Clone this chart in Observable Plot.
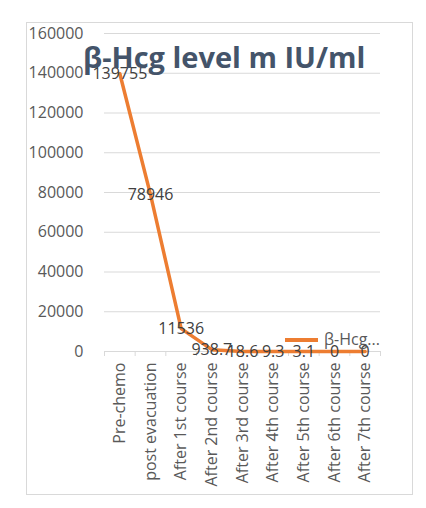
<!DOCTYPE html>
<html>
<head>
<meta charset="utf-8">
<script src="https://cdn.jsdelivr.net/npm/d3@7"></script>
<script src="https://cdn.jsdelivr.net/npm/@observablehq/plot@0.6"></script>
<style>
  html, body { margin: 0; padding: 0; background: #fff; }
  #wrap { position: relative; width: 426px; height: 508px; font-family: "Open Sans", sans-serif; }
  #frame { position: absolute; left: 26px; top: 22px; width: 387px; height: 473px; border: 1px solid #d9d9d9; box-sizing: border-box; }
  #title { position: absolute; left: 83px; top: 42px; font-size: 29px; line-height: 1; font-weight: 700; color: #44546A; white-space: nowrap; }
  #legend { position: absolute; left: 285px; top: 329px; font-size: 16px; line-height: 20px; color: #595959; white-space: nowrap; }
  #legend .sw { display: inline-block; width: 33px; height: 4px; background: #ED7D31; vertical-align: middle; margin-right: 6px; position: relative; top: -1px; }
  #chart { position: absolute; left: 0; top: 0; }
</style>
</head>
<body>
<div id="wrap">
  <div id="frame"></div>
  <div id="chart"></div>
  <div id="title">β-Hcg level m IU/ml</div>
  <div id="legend"><span class="sw"></span>β-Hcg...</div>
</div>
<script>
const categories = ["Pre-chemo", "post evacuation", "After 1st course", "After 2nd course", "After 3rd course", "After 4th course", "After 5th course", "After 6th course", "After 7th course"];
const values = [139755, 78946, 11536, 938.7, 18.6, 9.3, 3.1, 0, 0];
const yTicks = [0, 20000, 40000, 60000, 80000, 100000, 120000, 140000, 160000];

const data = categories.map((c, i) => ({i, c, v: values[i]}));
const idx = categories.map((c, i) => i);
const bounds = [...idx.map(i => i - 0.5), categories.length - 0.5];

const chart = Plot.plot({
  width: 426,
  height: 508,
  marginLeft: 104,
  marginRight: 46,
  marginTop: 33,
  marginBottom: 157,
  style: {fontFamily: "Open Sans, sans-serif", fontSize: "16px", color: "#595959", background: "transparent"},
  x: {type: "linear", domain: [-0.5, categories.length - 0.5]},
  y: {domain: [0, 160000]},
  marks: [
    Plot.gridY(yTicks, {stroke: "#d9d9d9", strokeOpacity: 1}),
    Plot.axisY({ticks: yTicks, tickSize: 0, tickPadding: 21, fontSize: 16, tickFormat: d => String(d), label: null}),
    Plot.ruleY([0], {stroke: "#d9d9d9"}),
    Plot.axisX({ticks: bounds, tickSize: 5, tickFormat: () => "", stroke: "#d9d9d9", label: null}),
    Plot.axisX({ticks: idx, tickSize: 0, tickPadding: 11, tickRotate: -90, fontSize: 16, tickFormat: i => categories[i], label: null}),
    Plot.line(data, {x: "i", y: "v", stroke: "#ED7D31", strokeWidth: 3.5, strokeLinejoin: "round"}),
    Plot.text(data, {x: "i", y: "v", text: d => String(d.v), fontSize: 16, fill: "#404040"})
  ]
});
document.getElementById("chart").appendChild(chart);
</script>
</body>
</html>
